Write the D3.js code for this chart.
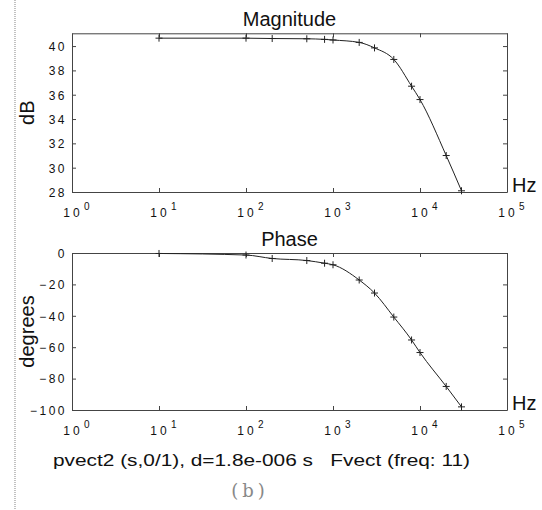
<!DOCTYPE html>
<html>
<head>
<meta charset="utf-8">
<script src="https://cdn.jsdelivr.net/npm/d3@7/dist/d3.min.js"></script>
<style>
  html, body { margin: 0; padding: 0; background: #fff; }
  svg { display: block; }
  .tick text { font-family: "Liberation Sans", Arial, sans-serif; font-size: 12px; letter-spacing: 2.5px; fill: #111; }
</style>
</head>
<body>
<svg id="chart" width="542" height="510"></svg>
<script>
// ---- data ----
const freqs    = [10, 100, 200, 500, 800, 1000, 2000, 3000, 5000, 8000, 10000, 20000, 30000];
const magDb    = [40.65, 40.65, 40.62, 40.6, 40.55, 40.5, 40.3, 39.85, 38.9, 36.7, 35.6, 31.0, 28.1];
const phaseDeg = [-0.3, -1.3, -3.5, -4.8, -6.5, -7.5, -17.2, -25.5, -40.8, -55.4, -63.4, -85, -98];
const xTickVals = [1, 10, 100, 1000, 10000, 100000];
const xTickExps = ["0", "1", "2", "3", "4", "5"];
const magTicks = [28, 30, 32, 34, 36, 38, 40];
const phaseTicks = [0, -20, -40, -60, -80, -100];
const titles = ["Magnitude", "Phase"];
const yLabels = ["dB", "degrees"];
const xUnit = "Hz";
const xLabel = "pvect2 (s,0/1), d=1.8e-006 s   Fvect (freq: 11)";
const caption = "(b)";

// ---- layout ----
const svg = d3.select("#chart");
const L = 72, R = 507;
const panels = [
  { top: 33.3, bottom: 192, domain: [28, 41.05], ticks: magTicks, values: magDb },
  { top: 253, bottom: 410, domain: [-100, 0], ticks: phaseTicks, values: phaseDeg }
];
const x = d3.scaleLog().domain([1, 1e5]).range([L, R]);
const FONT = "'Liberation Sans', Arial, sans-serif";
const axisColor = "#444";

// left dotted border
svg.append("line").attr("x1", 15).attr("x2", 15).attr("y1", 0).attr("y2", 510)
  .attr("stroke", "#999").attr("stroke-width", 1.2).attr("stroke-dasharray", "1,1");

panels.forEach((p, i) => {
  const y = d3.scaleLinear().domain(p.domain).range([p.bottom, p.top]);
  const g = svg.append("g");

  const styleAxis = sel => {
    sel.select(".domain").attr("stroke", axisColor).attr("stroke-width", 1);
    sel.selectAll(".tick line").attr("stroke", axisColor);
  };

  g.append("g").attr("transform", `translate(${L},0)`)
    .call(d3.axisLeft(y).tickValues(p.ticks).tickSize(-4).tickSizeOuter(0).tickPadding(5).tickFormat(d3.format("d")))
    .call(styleAxis)
    .call(s => s.selectAll(".tick text").attr("dy", "0.36em"));
  g.append("g").attr("transform", `translate(${R},0)`)
    .call(d3.axisRight(y).tickValues(p.ticks).tickSize(-4).tickSizeOuter(0).tickFormat(""))
    .call(styleAxis);
  g.append("g").attr("transform", `translate(0,${p.bottom})`)
    .call(d3.axisBottom(x).tickValues(xTickVals).tickSize(-4).tickSizeOuter(0).tickFormat(""))
    .call(styleAxis);
  g.append("g").attr("transform", `translate(0,${p.top})`)
    .call(d3.axisTop(x).tickValues(xTickVals).tickSize(-4).tickSizeOuter(0).tickFormat(""))
    .call(styleAxis);

  // x tick labels: 10^n
  const lab = g.append("g").selectAll("g").data(xTickVals).join("g")
    .attr("transform", d => `translate(${x(d)},${p.bottom + 25})`);
  lab.append("text").attr("x", 1).attr("text-anchor", "middle")
    .attr("font-family", FONT).attr("font-size", 12).attr("letter-spacing", "3px").attr("fill", "#111")
    .text("10");
  lab.append("text").attr("x", 12).attr("y", -7)
    .attr("font-family", FONT).attr("font-size", 10).attr("fill", "#111")
    .text((d, k) => xTickExps[k]);

  // title
  g.append("text").attr("x", (L + R) / 2).attr("y", p.top - 7).attr("text-anchor", "middle")
    .attr("font-family", FONT).attr("font-size", 20).attr("fill", "#111").text(titles[i]);

  // y label
  g.append("text").attr("transform", `translate(34,${(p.top + p.bottom) / 2}) rotate(-90)`)
    .attr("text-anchor", "middle").attr("font-family", FONT).attr("font-size", 20).attr("fill", "#111")
    .text(yLabels[i]);

  // Hz
  g.append("text").attr("x", 512).attr("y", p.bottom).attr("font-family", FONT).attr("font-size", 20)
    .attr("fill", "#111").text(xUnit);

  // curve
  const pts = freqs.map((f, k) => [f, p.values[k]]);
  g.append("path").datum(pts)
    .attr("fill", "none").attr("stroke", "#222").attr("stroke-width", 1)
    .attr("d", d3.line().curve(d3.curveMonotoneX).x(d => x(d[0])).y(d => y(d[1])));
  // + markers
  g.append("g").selectAll("path").data(pts).join("path")
    .attr("transform", d => `translate(${x(d[0])},${y(d[1])})`)
    .attr("d", "M-3.5,0H3.5M0,-3.5V3.5")
    .attr("stroke", "#222").attr("stroke-width", 1).attr("fill", "none");
});

// x label
svg.append("text").attr("x", 53).attr("y", 466).attr("font-family", FONT).attr("font-size", 17)
  .attr("fill", "#111").attr("textLength", 417).attr("lengthAdjust", "spacingAndGlyphs")
  .attr("xml:space", "preserve").style("white-space", "pre").text(xLabel);

// caption
svg.append("text").attr("x", 250).attr("y", 497).attr("text-anchor", "middle")
  .attr("font-family", "'DejaVu Serif', serif").attr("font-size", 18).attr("letter-spacing", "4px")
  .attr("fill", "#888").text(caption);
</script>
</body>
</html>
